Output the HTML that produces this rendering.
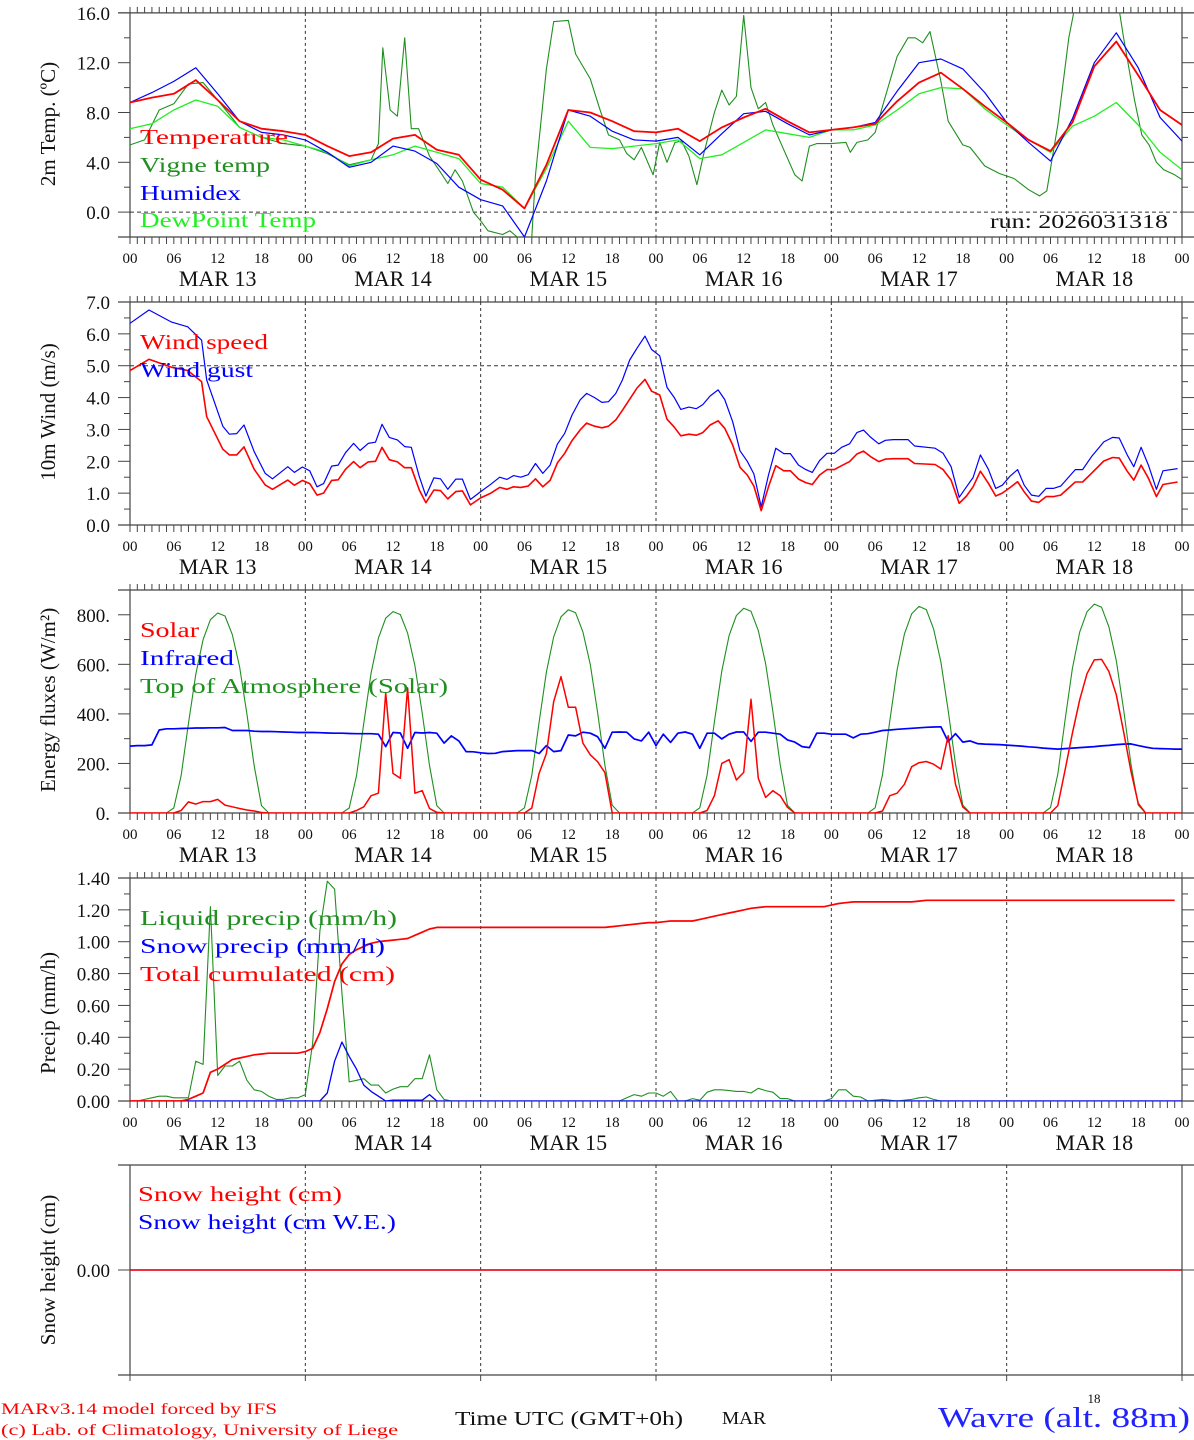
<!DOCTYPE html>
<html><head><meta charset="utf-8"><title>MAR forecast Wavre</title>
<style>
html,body{margin:0;padding:0;background:#fff;}
svg{display:block;}
text{font-family:"Liberation Serif","DejaVu Serif",serif;}
</style></head>
<body>
<svg id="chart" xmlns="http://www.w3.org/2000/svg" width="1194" height="1440" viewBox="0 0 1194 1440"></svg>
<script>
// ---------- DATA ----------
const dayLabels = ["MAR 13","MAR 14","MAR 15","MAR 16","MAR 17","MAR 18"];
const hourTickLabels = ["00","06","12","18"];
// Panel 1 (3-hourly, h=0..144)
const temperature = [8.8,9.2,9.5,10.6,9.0,7.3,6.7,6.5,6.2,5.3,4.5,4.8,5.9,6.2,5.0,4.6,2.6,1.8,0.3,3.8,8.2,8.0,7.3,6.5,6.4,6.7,5.7,6.8,7.6,8.3,7.3,6.4,6.6,6.8,7.1,8.9,10.4,11.2,9.9,8.5,7.2,5.8,4.9,7.2,11.7,13.7,11.0,8.2,7.0];
const humidex = [8.8,9.6,10.5,11.6,9.5,7.3,6.4,6.2,5.8,4.8,3.6,4.0,5.3,4.9,3.9,2.0,1.0,0.5,-2.0,2.5,8.2,7.7,6.5,5.8,5.7,6.0,4.6,6.3,7.9,8.1,7.1,6.2,6.6,6.8,7.2,9.7,12.0,12.3,11.5,9.6,7.2,5.6,4.1,7.5,12.0,14.4,11.6,7.6,5.7];
const dewpoint = [6.7,7.1,8.2,9.0,8.5,6.8,6.0,5.8,5.3,4.8,3.7,4.2,4.6,5.3,4.8,4.3,2.3,2.0,0.3,3.5,7.3,5.2,5.1,5.3,5.5,5.8,4.3,4.6,5.6,6.6,6.3,6.0,6.6,6.6,7.0,8.2,9.5,10.0,9.9,8.3,7.0,5.8,4.8,6.9,7.7,8.8,7.0,4.8,3.4];
const vigneHours = [0,2,4,6,8,10,12,15,18,21,24,27,30,33,34,34.6,35.6,36.6,37.6,38.5,39.5,41,42.5,43.5,44.5,45.5,47,48,49,51,52,53,54,55,55.5,57,58,60,61,63,64.3,65.5,67,68,69,70,71.6,72.5,73.5,74.6,75.5,76.5,77.6,78.5,80,81,82,83,84,85,86,87,88,89.5,91,92,93,94,96,98,98.6,99.5,101,102,103,105,106.5,107.5,108.5,109.5,111,112,114,115,117,119,121,123,124.5,125.5,127,128.5,129.5,131,134,135.2,136,137.5,138.5,139.5,140.5,141.5,143,144];
const vigneTemp = [5.4,5.8,8.2,8.7,10.3,10.4,9.0,6.8,6.0,5.5,5.3,4.7,3.8,4.2,5.5,13.2,8.2,7.7,14.0,6.7,6.7,4.5,3.2,2.3,3.4,2.5,0.0,-0.7,-1.5,-1.8,-1.5,-2.0,-2.1,-2.0,3.0,11.5,15.3,15.4,12.7,10.7,8.3,6.2,5.8,4.7,4.2,5.2,3.0,5.6,4.0,5.6,5.7,4.5,2.2,4.6,8.0,9.8,8.6,9.3,15.8,10.0,8.3,8.8,7.0,5.0,3.0,2.5,5.3,5.5,5.5,5.6,4.8,5.6,5.8,6.4,8.5,12.5,14.0,14.0,13.6,14.5,10.5,7.3,5.4,5.2,3.7,3.1,2.7,1.8,1.3,1.7,7.0,14.0,17,18,18,17,14,9.0,6.2,5.4,4.0,3.4,3.0,2.6];
// Panel 2
const windHours = [0,2.6,5.7,7.9,9.8,10.5,12.7,13.6,14.6,15.6,17,18.5,19.5,21.6,22.5,23.6,24.6,25.6,26.5,27.6,28.5,29.5,30.6,31.5,32.6,33.6,34.5,35.5,36.6,37.6,38.5,39.6,40.5,41.6,42.5,43.5,44.6,45.5,46.6,48,49.4,50.6,51.6,52.5,53.5,54.5,55.5,56.5,57.5,58.5,59.5,60.5,61.6,62.5,63.6,64.6,65.5,66.5,67.4,68.4,69.4,70.5,71.4,72.5,73.5,74.5,75.4,76.5,77.5,78.4,79.4,80.5,81.4,82.5,83.5,84.5,85.4,86.4,87.4,88.4,89.5,90.4,91.5,92.5,93.4,94.4,95.4,96.4,97.4,98.5,99.5,100.4,101.4,102.5,103.4,104.5,106.5,107.4,110.2,111.3,112.4,113.5,114.5,115.4,116.4,117.5,118.5,119.4,120.5,121.5,122.4,123.4,124.4,125.4,126.4,127.4,129.4,130.4,131.6,133.3,134.5,135.4,136.5,137.4,138.4,139.4,140.5,141.4,143.4];
const windGust = [6.33,6.75,6.37,6.22,5.8,4.55,3.1,2.85,2.87,3.14,2.3,1.62,1.45,1.83,1.65,1.82,1.7,1.2,1.3,1.85,1.88,2.27,2.56,2.34,2.56,2.6,3.16,2.75,2.67,2.46,2.44,1.52,0.91,1.48,1.45,1.12,1.44,1.44,0.8,1.05,1.28,1.5,1.43,1.55,1.5,1.58,1.93,1.62,1.88,2.54,2.88,3.45,3.92,4.13,4.0,3.85,3.87,4.13,4.55,5.18,5.55,5.93,5.51,5.31,4.32,4.0,3.63,3.7,3.65,3.78,4.05,4.24,3.94,3.24,2.33,2.0,1.6,0.57,1.57,2.41,2.24,2.24,1.88,1.74,1.65,2.02,2.25,2.25,2.44,2.55,2.9,2.98,2.75,2.55,2.66,2.68,2.68,2.48,2.41,2.25,1.83,0.87,1.2,1.49,2.2,1.75,1.15,1.25,1.54,1.74,1.25,0.94,0.9,1.15,1.15,1.22,1.74,1.74,2.14,2.61,2.75,2.73,2.2,1.83,2.44,1.88,1.12,1.7,1.77];
const windSpeed = [4.85,5.2,4.95,4.85,4.5,3.4,2.38,2.2,2.2,2.45,1.75,1.26,1.12,1.41,1.25,1.4,1.3,0.94,1.0,1.4,1.42,1.75,1.99,1.8,1.98,2.0,2.44,2.05,1.98,1.8,1.8,1.1,0.7,1.1,1.08,0.82,1.05,1.07,0.63,0.85,1.0,1.18,1.12,1.2,1.18,1.22,1.45,1.2,1.4,1.95,2.25,2.65,2.98,3.2,3.1,3.05,3.1,3.3,3.6,3.95,4.3,4.57,4.2,4.08,3.32,3.07,2.8,2.85,2.82,2.9,3.14,3.27,3.04,2.51,1.81,1.57,1.22,0.45,1.2,1.86,1.7,1.7,1.44,1.33,1.27,1.57,1.74,1.74,1.86,1.99,2.23,2.32,2.14,1.99,2.07,2.08,2.08,1.93,1.9,1.74,1.41,0.68,0.91,1.2,1.69,1.31,0.91,1.0,1.18,1.36,1.04,0.75,0.71,0.89,0.89,0.94,1.35,1.35,1.62,2.01,2.12,2.1,1.69,1.41,1.88,1.47,0.89,1.27,1.35];
// Panel 3 (hourly h=0..144)
const solar = [0,0,0,0,0,0,0,10,45,36,46,46,55,32,25,18,12,8,2,0,0,0,0,0,
 0,0,0,0,0,0,0,10,25,70,80,485,160,140,505,80,90,18,3,0,0,0,0,0,
 0,0,0,0,0,0,0,20,160,240,450,550,427,427,282,235,207,163,0,0,0,0,0,0,
 0,0,0,0,0,0,0,10,70,200,215,133,164,459,140,63,90,70,23,0,0,0,0,0,
 0,0,0,0,0,0,0,8,70,80,116,187,203,208,197,177,312,116,24,0,0,0,0,0,
 0,0,0,0,0,0,0,30,174,322,457,562,618,620,571,477,328,170,39,0,0,0,0,0,0];
const infrared = [270,272,272,275,335,340,340,341,342,343,343,344,344,345,333,333,333,330,329,329,328,327,326,325,
 325,325,324,323,322,322,321,320,320,320,318,268,325,323,261,325,323,325,322,282,311,291,248,247,
 243,240,241,248,250,252,252,252,240,272,248,252,315,311,326,322,308,261,326,327,326,299,291,326,
 272,318,285,322,327,318,261,322,322,299,318,327,327,289,326,326,322,318,295,286,268,264,322,322,
 318,318,318,303,318,320,326,333,335,338,340,342,344,346,347,348,288,320,286,291,280,278,277,276,
 274,272,270,267,265,262,260,258,260,262,264,266,268,271,273,276,278,279,272,266,261,260,259,258,258];
const toaSolar = [0,0,0,0,0,0,20,150,360,560,700,780,807,795,720,590,400,190,30,0,0,0,0,0,
 0,0,0,0,0,0,20,150,363,565,706,786,813,801,726,595,403,192,30,0,0,0,0,0,
 0,0,0,0,0,0,21,152,366,569,711,792,820,808,731,599,406,193,31,0,0,0,0,0,
 0,0,0,0,0,0,21,153,368,573,716,797,826,814,736,603,409,195,31,0,0,0,0,0,
 0,0,0,0,0,0,21,154,372,578,722,804,834,821,743,609,413,197,32,0,0,0,0,0,
 0,0,0,0,0,0,22,156,376,584,730,812,843,830,751,615,418,199,32,0,0,0,0,0,0];
// Panel 4 (hourly)
const liquidPrecip = [0,0,0.01,0.02,0.03,0.03,0.02,0.02,0.02,0.25,
 0.23,1.22,0.16,0.22,0.22,0.25,0.13,0.07,0.06,0.03,
 0.01,0.01,0.02,0.02,0.04,0.36,1.07,1.38,1.33,0.68,
 0.12,0.13,0.14,0.1,0.1,0.05,0.075,0.09,0.09,0.14,
 0.14,0.29,0.07,0.01,0,0,0,0,0,0,
 0,0,0,0,0,0,0,0,0,0,
 0,0,0,0,0,0,0,0,0.02,0.04,
 0.03,0.05,0.05,0.03,0.06,0,0,0.015,0.005,0.055,
 0.07,0.07,0.065,0.06,0.06,0.05,0.08,0.065,0.055,0.015,
 0.015,0,0,0,0,0,0.015,0.07,0.07,0.03,
 0.025,0,0.005,0.01,0.005,0,0.005,0.01,0.02,0.025,
 0.01,0,0,0,0,0,0,0,0,0,
 0,0,0,0,0,0,0,0,0,0,
 0,0,0,0,0,0,0,0,0,0,
 0,0,0,0,0];
const snowPrecip = [0,0,0,0,0,0,0,0,0,0,
 0,0,0,0,0,0,0,0,0,0,
 0,0,0,0,0,0,0,0.05,0.25,0.37,
 0.28,0.2,0.1,0.06,0.03,0,0.005,0.005,0.005,0.005,
 0.005,0.04,0,0,0,0,0,0,0,0,
 0,0,0,0,0,0,0,0,0,0,0,0,0,0,0,0,0,0,0,0,
 0,0,0,0,0,0,0,0,0,0,0,0,0,0,0,0,0,0,0,0,
 0,0,0,0,0,0,0,0,0,0,0,0,0,0,0,0,0,0,0,0,
 0,0,0,0,0,0,0,0,0,0,0,0,0,0,0,0,0,0,0,0,
 0,0,0,0,0,0,0,0,0,0,0,0,0,0,0];
const totalCumulated = [0,0,0,0,0,0,0,0,0.01,0.03,
 0.05,0.18,0.2,0.23,0.26,0.27,0.28,0.29,0.295,0.3,
 0.3,0.3,0.3,0.3,0.31,0.33,0.43,0.58,0.75,0.86,
 0.92,0.95,0.97,0.99,1.0,1.005,1.01,1.015,1.02,1.04,
 1.06,1.08,1.09,1.09,1.09,1.09,1.09,1.09,1.09,1.09,
 1.09,1.09,1.09,1.09,1.09,1.09,1.09,1.09,1.09,1.09,
 1.09,1.09,1.09,1.09,1.09,1.09,1.095,1.1,1.105,1.11,
 1.115,1.12,1.12,1.125,1.13,1.13,1.13,1.13,1.14,1.15,
 1.16,1.17,1.18,1.19,1.2,1.21,1.215,1.22,1.22,1.22,
 1.22,1.22,1.22,1.22,1.22,1.22,1.23,1.24,1.245,1.25,
 1.25,1.25,1.25,1.25,1.25,1.25,1.25,1.25,1.255,1.26,
 1.26,1.26,1.26,1.26,1.26,1.26,1.26,1.26,1.26,1.26,
 1.26,1.26,1.26,1.26,1.26,1.26,1.26,1.26,1.26,1.26,
 1.26,1.26,1.26,1.26,1.26,1.26,1.26,1.26,1.26,1.26,
 1.26,1.26,1.26,1.26];
// Panel 5 (3-hourly)
const snowHeight = [0,0,0,0,0,0,0,0,0,0,0,0,0,0,0,0,0,0,0,0,0,0,0,0,0,0,0,0,0,0,0,0,0,0,0,0,0,0,0,0,0,0,0,0,0,0,0,0,0];
const snowHeightWE = [0,0,0,0,0,0,0,0,0,0,0,0,0,0,0,0,0,0,0,0,0,0,0,0,0,0,0,0,0,0,0,0,0,0,0,0,0,0,0,0,0,0,0,0,0,0,0,0,0];
const tempTicks = ["16.0","12.0","8.0","4.0","0.0"];
const tempTickVals = [16,12,8,4,0];
const windTicks = ["7.0","6.0","5.0","4.0","3.0","2.0","1.0","0.0"];
const windTickVals = [7,6,5,4,3,2,1,0];
const fluxTicks = ["800.","600.","400.","200.","0."];
const fluxTickVals = [800,600,400,200,0];
const precipTicks = ["1.40","1.20","1.00","0.80","0.60","0.40","0.20","0.00"];
const precipTickVals = [1.4,1.2,1.0,0.8,0.6,0.4,0.2,0];

// ---------- DRAWING ----------
const NS = "http://www.w3.org/2000/svg";
const svg = document.getElementById('chart');
const X0 = 130, X1 = 1182;
function hx(h){ return X0 + h*(X1-X0)/144; }
function mk(tag, attrs, parent){
  const e = document.createElementNS(NS, tag);
  for (const k in attrs) e.setAttribute(k, attrs[k]);
  (parent||svg).appendChild(e);
  return e;
}
function scale(vmin, vmax, ytop, ybot){ return v => ybot - (v - vmin)/(vmax - vmin)*(ybot - ytop); }
const AX = "#444";

const panels = [
  {id:'temp', top:12.9, bot:237, vmin:-2, vmax:16, minor:2, labels:tempTicks, vals:tempTickVals, xlabels:true, title:"2m Temp. (\u00BAC)", tcy:124},
  {id:'wind', top:302, bot:525, vmin:0, vmax:7, minor:0.5, labels:windTicks, vals:windTickVals, xlabels:true, title:"10m Wind (m/s)", tcy:412},
  {id:'flux', top:590, bot:813, vmin:0, vmax:900, minor:100, labels:fluxTicks, vals:fluxTickVals, xlabels:true, title:"Energy fluxes (W/m\u00B2)", tcy:700},
  {id:'precip', top:878, bot:1101, vmin:0, vmax:1.4, minor:0.1, labels:precipTicks, vals:precipTickVals, xlabels:true, title:"Precip (mm/h)", tcy:1013},
  {id:'snow', top:1165, bot:1375, vmin:-1, vmax:1, minor:0, labels:["0.00"], vals:[0], xlabels:false, title:"Snow height (cm)", tcy:1270}
];

panels.forEach((p, pi) => {
  p.y = scale(p.vmin, p.vmax, p.top, p.bot);
  const g = mk('g', {});
  
  
  const cp = mk('clipPath', {id:'clip-'+p.id}, g);
  mk('rect', {x:X0, y:p.top, width:X1-X0, height:p.bot-p.top}, cp);
  p.g = g;
  // frame
  const fr = mk('g', {stroke:AX, 'stroke-width':1.2, fill:'none'}, g);
  
  
  mk('line', {x1:118, y1:p.top, x2:1194, y2:p.top}, fr);
  mk('line', {x1:118, y1:p.bot, x2:1194, y2:p.bot}, fr);
  mk('line', {x1:X0, y1:p.top, x2:X0, y2:p.bot}, fr);
  mk('line', {x1:X1, y1:p.top, x2:X1, y2:p.bot}, fr);
  // hourly ticks (top & bottom)
  if (pi < 4) {
    const tk = mk('g', {stroke:AX, 'stroke-width':1}, g);
    
    
    for (let h = 0; h <= 144; h++) {
      const x = hx(h);
      mk('line', {x1:x, y1:p.top-6, x2:x, y2:p.top}, tk);
      mk('line', {x1:x, y1:p.bot, x2:x, y2:p.bot+7}, tk);
    }
  } else {
    const tk = mk('g', {stroke:AX, 'stroke-width':1}, g);
    
    
    for (let d = 0; d <= 6; d++) mk('line', {x1:hx(24*d), y1:p.bot, x2:hx(24*d), y2:p.bot+6}, tk);
  }
  // y ticks
  const yt = mk('g', {stroke:AX, 'stroke-width':1}, g);
  
  
  if (p.minor) {
    for (let v = p.vmin; v <= p.vmax + 1e-9; v += p.minor) {
      const yy = p.y(v);
      const major = p.vals.some(t => Math.abs(t - v) < 1e-6);
      mk('line', {x1: major ? 118 : 124, y1:yy, x2:X0, y2:yy}, yt);
      mk('line', {x1:X1, y1:yy, x2: major ? 1194 : 1188, y2:yy}, yt);
    }
  } else {
    p.vals.forEach(v => { mk('line', {x1:118, y1:p.y(v), x2:X0, y2:p.y(v)}, yt); mk('line', {x1:X1, y1:p.y(v), x2:1194, y2:p.y(v)}, yt); });
  }
  p.labels.forEach((lab, i) => {
    const t = mk('text', {x:110, y:p.y(p.vals[i]) + 7, 'text-anchor':'end', 'font-size':19, fill:'#111'}, g);
    
    
    t.textContent = lab;
  });
  // y title
  const tt = mk('text', {transform:'translate(55,' + p.tcy + ') rotate(-90)', 'text-anchor':'middle', 'font-size':21, fill:'#111'}, g);
  
  
  tt.textContent = p.title;
  // day separators
  const ds = mk('g', {stroke:'#333', 'stroke-width':1, 'stroke-dasharray':'3,3'}, g);
  
  
  for (let d = 1; d < 6; d++) mk('line', {x1:hx(24*d), y1:p.top, x2:hx(24*d), y2:p.bot}, ds);
  // x labels
  if (p.xlabels) {
    for (let d = 0; d < 6; d++) {
      hourTickLabels.forEach((lab, k) => {
        const t = mk('text', {x:hx(24*d + 6*k), y:p.bot + 26, 'text-anchor':'middle', 'font-size':15, fill:'#111'}, g);
        
        
        t.textContent = lab;
      });
      const dl = mk('text', {x:hx(24*d + 12), y:p.bot + 49, 'text-anchor':'middle', 'font-size':22, fill:'#111'}, g);
      
      
      dl.textContent = dayLabels[d];
    }
    const t = mk('text', {x:hx(144), y:p.bot + 26, 'text-anchor':'middle', 'font-size':15, fill:'#111'}, g);
    
    
    t.textContent = hourTickLabels[0];
  }
});

function refLine(p, v, name){
  const l = mk('line', {x1:X0, y1:p.y(v), x2:X1, y2:p.y(v), stroke:'#333', 'stroke-width':1, 'stroke-dasharray':'4,3'}, p.g);
  
  
}
refLine(panels[0], 0, 'zero-reference-line');
refLine(panels[1], 5, 'five-ms-reference-line');

function series(p, hours, vals, color, w, name){
  const pts = [];
  const n = Math.min(hours.length, vals.length);
  for (let i = 0; i < n; i++) pts.push(hx(hours[i]).toFixed(1) + ',' + p.y(vals[i]).toFixed(1));
  const pl = mk('polyline', {points:pts.join(' '), fill:'none', stroke:color, 'stroke-width':w, 'stroke-linejoin':'round', 'clip-path':'url(#clip-' + p.id + ')'}, p.g);
  
  
}
const h3 = temperature.map((_, i) => i*3);
const h1 = solar.map((_, i) => i);
const DG = '#1f8f1f', LG = '#22ee22';
// panel 1
series(panels[0], vigneHours, vigneTemp, DG, 1.1, 'vigne-temp-line');
series(panels[0], h3, dewpoint, LG, 1.3, 'dewpoint-line');
series(panels[0], h3, humidex, '#0000ff', 1.2, 'humidex-line');
series(panels[0], h3, temperature, '#ff0000', 1.8, 'temperature-line');
// panel 2
series(panels[1], windHours, windGust, '#0000ff', 1.2, 'wind-gust-line');
series(panels[1], windHours, windSpeed, '#ff0000', 1.6, 'wind-speed-line');
// panel 3
series(panels[2], h1, toaSolar, DG, 1.1, 'toa-solar-line');
series(panels[2], h1, infrared, '#0000ff', 1.7, 'infrared-line');
series(panels[2], h1, solar, '#ff0000', 1.5, 'solar-line');
// panel 4
series(panels[3], liquidPrecip.map((_, i) => i), liquidPrecip, DG, 1.1, 'liquid-precip-line');
series(panels[3], snowPrecip.map((_, i) => i), snowPrecip, '#0000ff', 1.3, 'snow-precip-line');
series(panels[3], totalCumulated.map((_, i) => i), totalCumulated, '#ff0000', 1.7, 'total-cumulated-line');
// panel 5
series(panels[4], h3, snowHeightWE, '#0000ff', 1.3, 'snow-height-we-line');
series(panels[4], h3, snowHeight, '#ff0000', 1.6, 'snow-height-line');

// legends & texts
function txt(x, y, s, size, color, len, name, anchor, fam){
  const a = {x:x, y:y, 'font-size':size, fill:color};
  if (len) { a.textLength = len; a.lengthAdjust = 'spacingAndGlyphs'; }
  if (anchor) a['text-anchor'] = anchor;
  if (fam) a['font-family'] = fam;
  const t = mk('text', a);
  
  
  t.textContent = s;
  return t;
}
txt(140, 144, "Temperature", 21, '#ff0000', 148, 'legend-temperature');
txt(140, 172, "Vigne temp", 21, DG, 130, 'legend-vigne-temp');
txt(140, 200, "Humidex", 21, '#0000ff', 101, 'legend-humidex');
txt(140, 227, "DewPoint Temp", 21, LG, 176, 'legend-dewpoint');
txt(990, 228, "run: 2026031318", 20, '#111', 178, 'run-label');
txt(140, 349, "Wind speed", 21, '#ff0000', 128, 'legend-wind-speed');
txt(140, 377, "Wind gust", 21, '#0000ff', 113, 'legend-wind-gust');
txt(140, 637, "Solar", 21, '#ff0000', 59, 'legend-solar');
txt(140, 665, "Infrared", 21, '#0000ff', 94, 'legend-infrared');
txt(140, 693, "Top of Atmosphere (Solar)", 21, DG, 308, 'legend-toa');
txt(140, 925, "Liquid precip (mm/h)", 21, DG, 257, 'legend-liquid-precip');
txt(140, 953, "Snow precip (mm/h)", 21, '#0000ff', 245, 'legend-snow-precip');
txt(140, 981, "Total cumulated (cm)", 21, '#ff0000', 255, 'legend-total-cumulated');
txt(138, 1201, "Snow height (cm)", 21, '#ff0000', 204, 'legend-snow-height');
txt(138, 1229, "Snow height (cm W.E.)", 21, '#0000ff', 258, 'legend-snow-height-we');
txt(1, 1414, "MARv3.14 model forced by IFS", 16, '#ff0000', 276, 'model-credit');
txt(1, 1435, "(c) Lab. of Climatology, University of Liege", 16, '#ff0000', 397, 'lab-credit');
txt(455, 1425, "Time UTC (GMT+0h)", 20, '#111', 228, 'x-axis-title');
txt(722, 1424, "MAR", 18, '#111', 44, 'month-label');
txt(1094, 1403, "18", 13, '#111', 0, 'run-hour-label', 'middle', '"Liberation Sans", sans-serif');
txt(938, 1427, "Wavre (alt. 88m)", 28, '#2222ff', 252, 'station-title');
</script>
</body></html>
